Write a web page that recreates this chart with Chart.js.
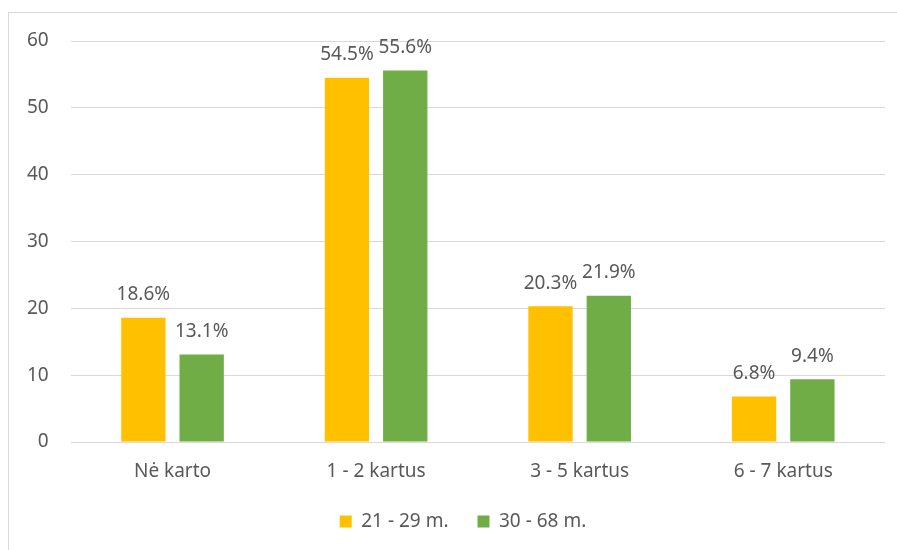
<!DOCTYPE html>
<html><head><meta charset="utf-8">
<script src="https://cdn.jsdelivr.net/npm/chart.js@4/dist/chart.umd.min.js"></script>
<style>
html,body{margin:0;padding:0;background:#fff;}
#wrap{position:relative;width:897px;height:550px;overflow:hidden;}
#frame{position:absolute;left:8px;top:12px;width:900px;height:600px;border:1px solid #d9d9d9;box-sizing:border-box;pointer-events:none;}
canvas{position:absolute;left:0;top:0;}
</style></head>
<body>
<div id="wrap"><div id="frame"></div><canvas id="c" width="897" height="550"></canvas></div>
<script>
const categories = ["Nė karto", "1 - 2 kartus", "3 - 5 kartus", "6 - 7 kartus"];
const seriesNames = ["21 - 29 m.", "30 - 68 m."];
const young = [18.6, 54.5, 20.3, 6.8];
const older = [13.1, 55.6, 21.9, 9.4];
const yTicks = [0, 10, 20, 30, 40, 50, 60];

const FONT = "'Noto Sans', sans-serif";
const TXT = "#595959";
const FS = 19;

const labelPlugin = {
  id: 'barLabels',
  afterDatasetsDraw(chart) {
    const ctx = chart.ctx;
    ctx.save();
    ctx.font = FS + "px " + FONT;
    ctx.fillStyle = TXT;
    ctx.textAlign = 'center';
    ctx.textBaseline = 'middle';
    chart.data.datasets.forEach((ds, i) => {
      chart.getDatasetMeta(i).data.forEach((bar, j) => {
        ctx.fillText(ds.data[j].toFixed(1) + '%', bar.x, bar.y - 23);
      });
    });
    ctx.restore();
  }
};

// Shift the legend block to match the reference's (off-centre) placement
const legendShift = {
  id: 'legendShift',
  afterLayout(chart) {
    if (chart.legend) { chart.legend.left += 18; chart.legend.right += 18; }
  }
};

new Chart(document.getElementById('c'), {
  type: 'bar',
  data: {
    labels: categories,
    datasets: [
      { label: seriesNames[0], data: young, backgroundColor: '#FFC000', borderWidth: 0 },
      { label: seriesNames[1], data: older, backgroundColor: '#70AD47', borderWidth: 0 }
    ]
  },
  options: {
    responsive: false,
    animation: false,
    devicePixelRatio: 1,
    layout: { padding: { left: 5, right: 12, top: 41, bottom: 9 } },
    datasets: { bar: { categoryPercentage: 0.573, barPercentage: 0.76 } },
    scales: {
      x: {
        grid: { display: false, drawTicks: false },
        border: { display: false },
        ticks: { color: TXT, font: { family: FONT, size: FS }, padding: 18 },
        afterFit(s) { s.height = 41; }
      },
      y: {
        min: 0, max: 60,
        afterBuildTicks(s) { s.ticks = yTicks.map(v => ({ value: v })); },
        grid: { color: '#d9d9d9', lineWidth: 1, drawTicks: false },
        border: { display: false },
        ticks: { color: TXT, font: { family: FONT, size: FS }, padding: 22 }
      }
    },
    plugins: {
      legend: {
        position: 'bottom',
        labels: { color: TXT, font: { family: FONT, size: FS }, boxWidth: 12, boxHeight: 12, padding: 29 }
      },
      tooltip: { enabled: false }
    }
  },
  plugins: [labelPlugin, legendShift]
});
</script>
</body></html>
